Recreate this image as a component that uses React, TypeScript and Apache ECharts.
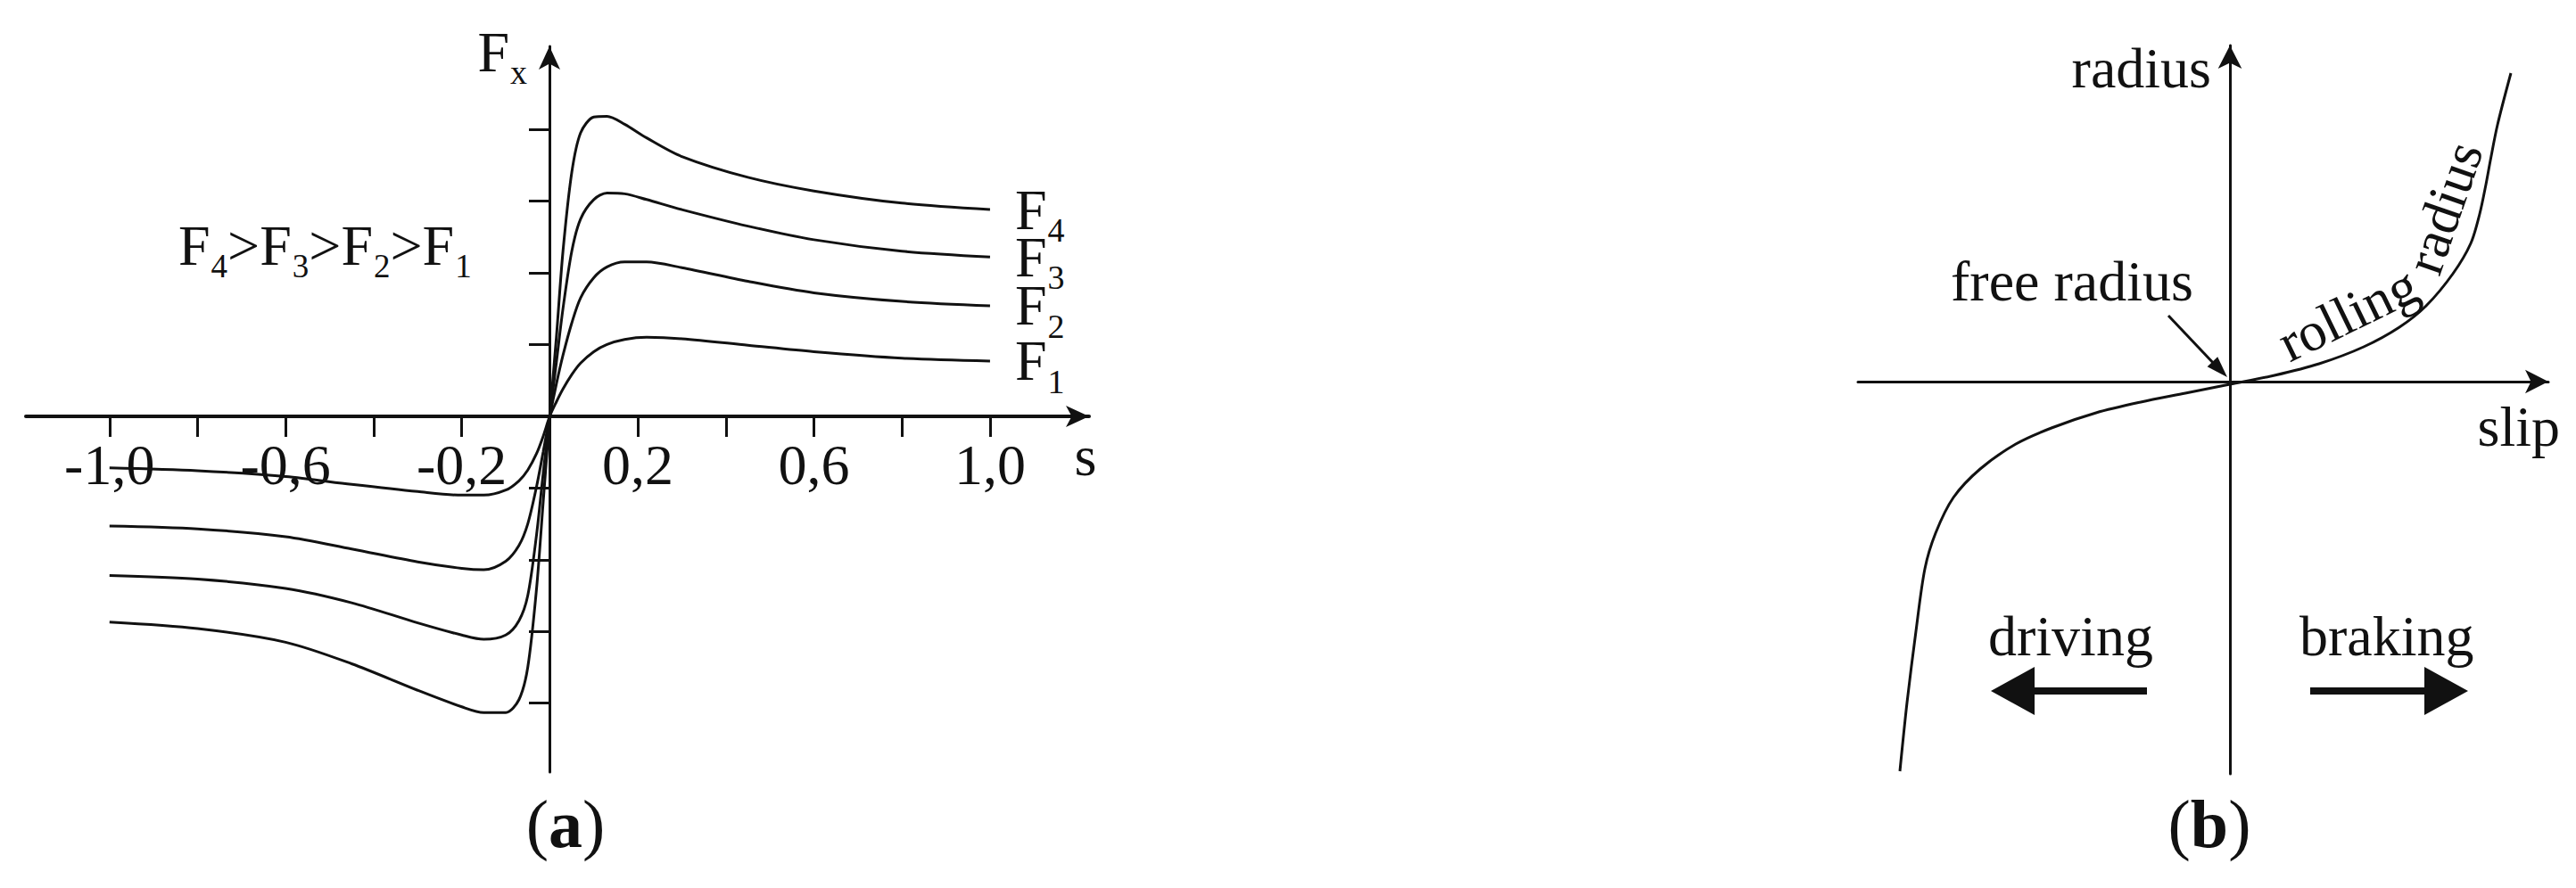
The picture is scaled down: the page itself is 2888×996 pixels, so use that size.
import React, { useEffect, useRef } from 'react';
import * as echarts from 'echarts';

const FONT = '"Liberation Serif", "Times New Roman", Times, serif';
const INK = '#111111';

// ---------- Panel (a): longitudinal force Fx versus slip s ----------
const slipA = [-1.0, -0.8, -0.6, -0.45, -0.3, -0.2, -0.15, -0.1, -0.07, -0.05, -0.03, -0.015, 0, 0.015, 0.03, 0.05, 0.07, 0.1, 0.13, 0.17, 0.22, 0.3, 0.45, 0.6, 0.8, 1.0];
const forceF1 = [-0.72, -0.76, -0.84, -0.95, -1.05, -1.1, -1.1, -1.03, -0.9, -0.75, -0.52, -0.28, 0, 0.2, 0.38, 0.58, 0.74, 0.9, 1.0, 1.07, 1.1, 1.08, 0.99, 0.9, 0.81, 0.77];
const forceF2 = [-1.53, -1.57, -1.68, -1.85, -2.03, -2.12, -2.14, -2.02, -1.8, -1.5, -0.98, -0.5, 0, 0.45, 0.85, 1.3, 1.65, 1.93, 2.08, 2.15, 2.15, 2.07, 1.88, 1.72, 1.6, 1.54];
const forceF3 = [-2.22, -2.27, -2.4, -2.6, -2.88, -3.05, -3.11, -3.05, -2.85, -2.5, -1.65, -0.8, 0, 0.75, 1.5, 2.3, 2.75, 3.02, 3.11, 3.1, 3.02, 2.88, 2.65, 2.46, 2.3, 2.22];
const forceF4 = [-2.87, -2.96, -3.15, -3.45, -3.82, -4.05, -4.13, -4.13, -3.95, -3.5, -2.4, -1.2, 0, 1.1, 2.3, 3.4, 3.95, 4.17, 4.18, 4.07, 3.88, 3.62, 3.33, 3.14, 2.97, 2.88];
const curveSubscripts = ['1', '2', '3', '4'];
const xTickValuesA = [-1.0, -0.8, -0.6, -0.4, -0.2, 0.2, 0.4, 0.6, 0.8, 1.0];
const xLabelValuesA = [-1.0, -0.6, -0.2, 0.2, 0.6, 1.0];
const yTickValuesA = [-4, -3, -2, -1, 1, 2, 3, 4];

// ---------- Panel (b): rolling radius versus slip ----------
const slipB = [-3.7, -3.62, -3.52, -3.42, -3.3, -3.1, -2.8, -2.4, -2.0, -1.5, -1.0, -0.5, 0, 0.5, 1.0, 1.5, 1.9, 2.2, 2.5, 2.7, 2.8, 2.87, 2.92, 3.0, 3.15];
const radiusB = [-4.37, -3.6, -2.8, -2.1, -1.7, -1.3, -0.98, -0.7, -0.52, -0.35, -0.23, -0.13, -0.03, 0.07, 0.2, 0.39, 0.61, 0.85, 1.21, 1.55, 1.88, 2.21, 2.48, 2.88, 3.46];
const curveCaptionWords = ['rolling', 'radius'];

function richLabel(main: number, sub: number, forGraphic: boolean) {
  const c = forGraphic ? { fill: INK } : { color: INK };
  return {
    m: { fontSize: main, fontFamily: FONT, ...c },
    s: { fontSize: sub, fontFamily: FONT, padding: [46, 0, 0, 1], ...c },
  };
}

function curveText(chart: any, xs: number[], ys: number[], startSlip: number, words: string[], fontSize: number, gap: number, wordGap: number) {
  const pts = xs.map((x, i) => chart.convertToPixel({ gridIndex: 1 }, [x, ys[i]]) as number[]);
  const cum = [0];
  for (let i = 1; i < pts.length; i++) {
    cum.push(cum[i - 1] + Math.hypot(pts[i][0] - pts[i - 1][0], pts[i][1] - pts[i - 1][1]));
  }
  const at = (s: number) => {
    let i = 1;
    while (i < pts.length - 1 && cum[i] < s) i++;
    const t = (s - cum[i - 1]) / (cum[i] - cum[i - 1]);
    return [pts[i - 1][0] + t * (pts[i][0] - pts[i - 1][0]), pts[i - 1][1] + t * (pts[i][1] - pts[i - 1][1])];
  };
  const startPx = (chart.convertToPixel({ gridIndex: 1 }, [startSlip, 0]) as number[])[0];
  let s0 = 0;
  for (let i = 1; i < pts.length; i++) {
    if (pts[i][0] >= startPx) {
      const t = (startPx - pts[i - 1][0]) / (pts[i][0] - pts[i - 1][0]);
      s0 = cum[i - 1] + t * (cum[i] - cum[i - 1]);
      break;
    }
  }
  const ctx = document.createElement('canvas').getContext('2d') as CanvasRenderingContext2D;
  ctx.font = `${fontSize}px ${FONT}`;
  const space = ctx.measureText(' ').width;
  let cursor = s0;
  return words.map((w) => {
    const width = ctx.measureText(w).width;
    const a = at(cursor);
    const b = at(cursor + width);
    cursor += width + space + wordGap;
    const len = Math.hypot(b[0] - a[0], b[1] - a[1]) || 1;
    const tx = (b[0] - a[0]) / len;
    const ty = (b[1] - a[1]) / len;
    const nx = ty;
    const ny = -tx;
    const off = fontSize * 0.3375 + gap;
    return {
      type: 'text',
      silent: true,
      x: (a[0] + b[0]) / 2 + nx * off,
      y: (a[1] + b[1]) / 2 + ny * off,
      rotation: Math.atan2(-ty, tx),
      style: { text: w, fontSize, fontFamily: FONT, fill: INK, textAlign: 'center', textVerticalAlign: 'middle' },
    };
  });
}

function arrowHead(tipX: number, tipY: number, fromX: number, fromY: number, len: number, half: number) {
  const d = Math.hypot(tipX - fromX, tipY - fromY);
  const ux = (tipX - fromX) / d;
  const uy = (tipY - fromY) / d;
  const bx = tipX - ux * len;
  const by = tipY - uy * len;
  return [
    [tipX, tipY],
    [bx - uy * half, by + ux * half],
    [bx + uy * half, by - ux * half],
  ];
}

export default function App() {
  const ref = useRef<HTMLDivElement>(null);
  useEffect(() => {
    if (!ref.current) return;
    const chart = echarts.init(ref.current, null, { renderer: 'svg', width: 2888, height: 996 });
    const forces = [forceF1, forceF2, forceF3, forceF4];
    const labelRich = richLabel(64, 38, false);
    const nameRich = (pad: number[]) => ({ n: { fontSize: 64, fontFamily: FONT, color: INK, padding: pad } });

    const seriesA = forces.map((f, k) => ({
      type: 'line',
      name: 'F' + curveSubscripts[k],
      xAxisIndex: 0,
      yAxisIndex: 0,
      data: slipA.map((s, i) => [s, f[i]]),
      smooth: 0.3,
      showSymbol: false,
      silent: true,
      lineStyle: { color: INK, width: 3 },
      itemStyle: { color: INK },
      endLabel: {
        show: true,
        formatter: `{m|F}{s|${curveSubscripts[k]}}`,
        distance: 28,
        fontSize: 64,
        fontFamily: FONT,
        color: INK,
        rich: labelRich,
      },
    }));

    const option: any = {
      animation: false,
      backgroundColor: '#ffffff',
      grid: [
        { left: 29, top: 52, width: 1192, height: 814, outerBoundsMode: 'none' },
        { left: 2083, top: 51, width: 774, height: 817, outerBoundsMode: 'none' },
      ],
      xAxis: [
        {
          gridIndex: 0,
          type: 'value',
          position: 'bottom',
          offset: -399,
          min: -1.19,
          max: 1.225,
          splitLine: { show: false },
          axisLine: { show: true, onZero: false, symbol: ['none', 'arrow'], symbolSize: [18, 26], lineStyle: { color: INK, width: 4 } },
          axisTick: { show: true, length: 23, customValues: xTickValuesA, lineStyle: { color: INK, width: 3 } },
          axisLabel: {
            show: true,
            customValues: xLabelValuesA,
            formatter: (v: number) => v.toFixed(1).replace('.', ','),
            margin: 22,
            fontSize: 64,
            fontFamily: FONT,
            color: INK,
          },
          name: '{n|s}',
          nameLocation: 'end',
          nameGap: -4,
          nameTextStyle: { align: 'center', verticalAlign: 'middle', rich: nameRich([88, 0, 0, 0]) },
        },
        {
          gridIndex: 1,
          type: 'value',
          position: 'bottom',
          offset: -440,
          min: -4.17,
          max: 3.57,
          splitLine: { show: false },
          axisLine: { show: true, onZero: false, symbol: ['none', 'arrow'], symbolSize: [20, 26], lineStyle: { color: INK, width: 3 } },
          axisTick: { show: false },
          axisLabel: { show: false },
          name: '{n|slip}',
          nameLocation: 'end',
          nameGap: 13,
          nameTextStyle: { align: 'right', verticalAlign: 'middle', rich: nameRich([100, 0, 0, 0]) },
        },
      ],
      yAxis: [
        {
          gridIndex: 0,
          type: 'value',
          position: 'left',
          offset: -587,
          min: -4.96,
          max: 5.155,
          splitLine: { show: false },
          axisLine: { show: true, onZero: false, symbol: ['none', 'arrow'], symbolSize: [18, 26], lineStyle: { color: INK, width: 3 } },
          axisTick: { show: true, length: 23, customValues: yTickValuesA, lineStyle: { color: INK, width: 3 } },
          axisLabel: { show: false },
          name: '{m|F}{s|x}',
          nameLocation: 'end',
          nameGap: -6,
          nameTextStyle: { fontSize: 64, fontFamily: FONT, color: INK, align: 'right', verticalAlign: 'middle', padding: [0, 25, 0, 0], rich: labelRich },
        },
        {
          gridIndex: 1,
          type: 'value',
          position: 'left',
          offset: -417,
          min: -4.4,
          max: 3.77,
          splitLine: { show: false },
          axisLine: { show: true, onZero: false, symbol: ['none', 'arrow'], symbolSize: [20, 26], lineStyle: { color: INK, width: 3 } },
          axisTick: { show: false },
          axisLabel: { show: false },
          name: '{n|radius}',
          nameLocation: 'end',
          nameGap: -25,
          nameTextStyle: { align: 'right', verticalAlign: 'middle', rich: nameRich([0, 21, 0, 0]) },
        },
      ],
      series: [
        ...seriesA,
        {
          type: 'line',
          name: 'rolling radius',
          xAxisIndex: 1,
          yAxisIndex: 1,
          data: slipB.map((s, i) => [s, radiusB[i]]),
          smooth: 0.3,
          showSymbol: false,
          silent: true,
          lineStyle: { color: INK, width: 3 },
          itemStyle: { color: INK },
        },
      ],
    };
    chart.setOption(option);

    const gRich = richLabel(64, 37, true);
    const capRich = { p: { fontSize: 76, fontFamily: FONT, fill: INK }, b: { fontSize: 76, fontFamily: FONT, fontWeight: 'bold', fill: INK } };
    const plain = (text: string, x: number, y: number, align = 'left') => ({
      type: 'text',
      silent: true,
      x,
      y,
      style: { text, fontSize: 64, fontFamily: FONT, fill: INK, textAlign: align, textVerticalAlign: 'middle' },
    });

    const graphics: any[] = [
      {
        type: 'text',
        silent: true,
        x: 200,
        y: 275,
        style: {
          text: '{m|F}{s|4}{m|>}{m|F}{s|3}{m|>}{m|F}{s|2}{m|>}{m|F}{s|1}',
          rich: gRich,
          textAlign: 'left',
          textVerticalAlign: 'middle',
        },
      },
      { type: 'text', silent: true, x: 634, y: 924, style: { text: '{p|(}{b|a}{p|)}', rich: capRich, textAlign: 'center', textVerticalAlign: 'middle' } },
      { type: 'text', silent: true, x: 2477, y: 924, style: { text: '{p|(}{b|b}{p|)}', rich: capRich, textAlign: 'center', textVerticalAlign: 'middle' } },
      plain('free radius', 2187, 315),
      plain('driving', 2229, 713),
      plain('braking', 2578, 713),
      // free radius pointer
      { type: 'line', silent: true, shape: { x1: 2431, y1: 354, x2: 2484, y2: 410 }, style: { stroke: INK, lineWidth: 3 } },
      { type: 'polygon', silent: true, shape: { points: arrowHead(2497, 423, 2431, 354, 24, 8) }, style: { fill: INK } },
      // driving arrow
      { type: 'line', silent: true, shape: { x1: 2407, y1: 775, x2: 2270, y2: 775 }, style: { stroke: INK, lineWidth: 8 } },
      { type: 'polygon', silent: true, shape: { points: arrowHead(2232, 775, 2407, 775, 49, 27) }, style: { fill: INK } },
      // braking arrow
      { type: 'line', silent: true, shape: { x1: 2590, y1: 775, x2: 2730, y2: 775 }, style: { stroke: INK, lineWidth: 8 } },
      { type: 'polygon', silent: true, shape: { points: arrowHead(2767, 775, 2590, 775, 49, 27) }, style: { fill: INK } },
      ...curveText(chart, slipB, radiusB, 0.72, curveCaptionWords, 62, 10, 24),
    ];
    chart.setOption({ graphic: graphics });

    return () => chart.dispose();
  }, []);
  return <div ref={ref} style={{ position: 'fixed', left: 0, top: 0, width: 2888, height: 996, background: '#ffffff' }} />;
}
